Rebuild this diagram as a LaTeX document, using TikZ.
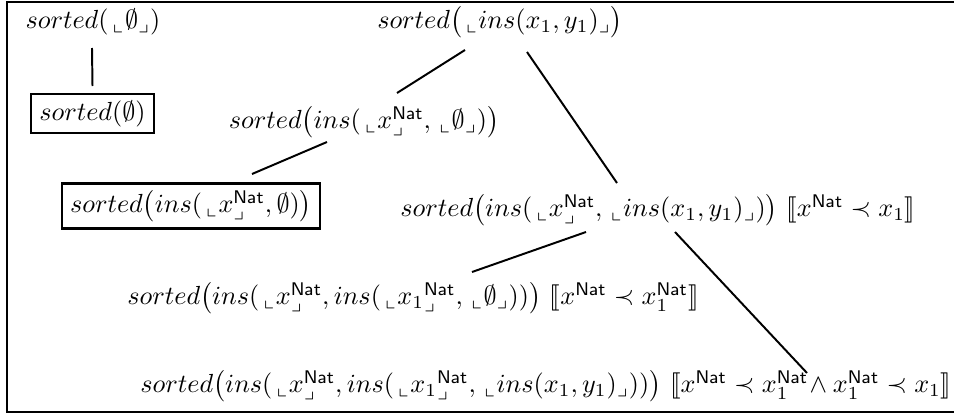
\documentclass[tikz,border=0pt]{standalone}
\usepackage{amssymb}
\usepackage{stmaryrd}
\usetikzlibrary{calc}
\newcommand{\mynat}{\mathsf{Nat}}
\newcommand{\hole}[1]{\,{}_{\llcorner}#1_{\lrcorner}}
\begin{document}
\begin{tikzpicture}[x=0.382pt,y=-0.382pt,
  term/.style={inner sep=0pt},
  boxed/.style={draw,line width=0.8pt,inner xsep=3.2pt,inner ysep=2.6pt},
  edge/.style={line width=0.75pt}]
\useasboundingbox (0,0) rectangle (954,417);
\draw[line width=1.1pt] (960,2) -- (7,2) -- (7,412) -- (960,412);
\node[term]  (n1) at (93,22)  {$sorted(\hole{\emptyset})$};
\node[boxed] (b1) at (92.5,113.5) {$sorted(\emptyset)$};
\node[term]  (n2) at (500,22) {$sorted\bigl(\hole{ins(x_1,y_1)}\bigr)$};
\node[term]  (n3) at (364,122) {$sorted\bigl(ins(\hole{x^{\mynat}}, \hole{\emptyset})\bigr)$};
\node[boxed] (b4) at (191,206) {$sorted\bigl(ins(\hole{x^{\mynat}},\emptyset)\bigr)$};
\node[term]  (n5) at (658,210) {$sorted\bigl(ins(\hole{x^{\mynat}}, \hole{ins(x_1,y_1)})\bigr)\ \llbracket x^{\mynat}\prec x_1\rrbracket$};
\node[term]  (n6) at (413,298) {$sorted\bigl(ins(\hole{x^{\mynat}}, ins(\hole{{x_1}^{\mynat}}, \hole{\emptyset}))\bigr)\ \llbracket x^{\mynat}\prec x_1^{\mynat}\rrbracket$};
\node[term]  (n7) at (546,386) {$sorted\bigl(ins(\hole{x^{\mynat}}, ins(\hole{{x_1}^{\mynat}}, \hole{ins(x_1,y_1)}))\bigr)\ \llbracket x^{\mynat}\prec x_1^{\mynat}\!\wedge x_1^{\mynat}\prec x_1\rrbracket$};
\draw[edge] ($(n1)+(-1,26)$) -- ($(b1)+(0,-27.5)$);
\draw[edge] ($(n2)+(-35,28)$) -- ($(n3)+(33,-29)$);
\draw[edge] ($(n2)+(27,30)$) -- ($(n5)+(-41,-27)$);
\draw[edge] ($(n3)+(-37,20)$) -- ($(b4)+(61,-32)$);
\draw[edge] ($(n5)+(-72,22)$) -- ($(n6)+(59,-26)$);
\draw[edge] ($(n5)+(17,22)$) -- ($(n7)+(261,-13)$);
\end{tikzpicture}
\end{document}
